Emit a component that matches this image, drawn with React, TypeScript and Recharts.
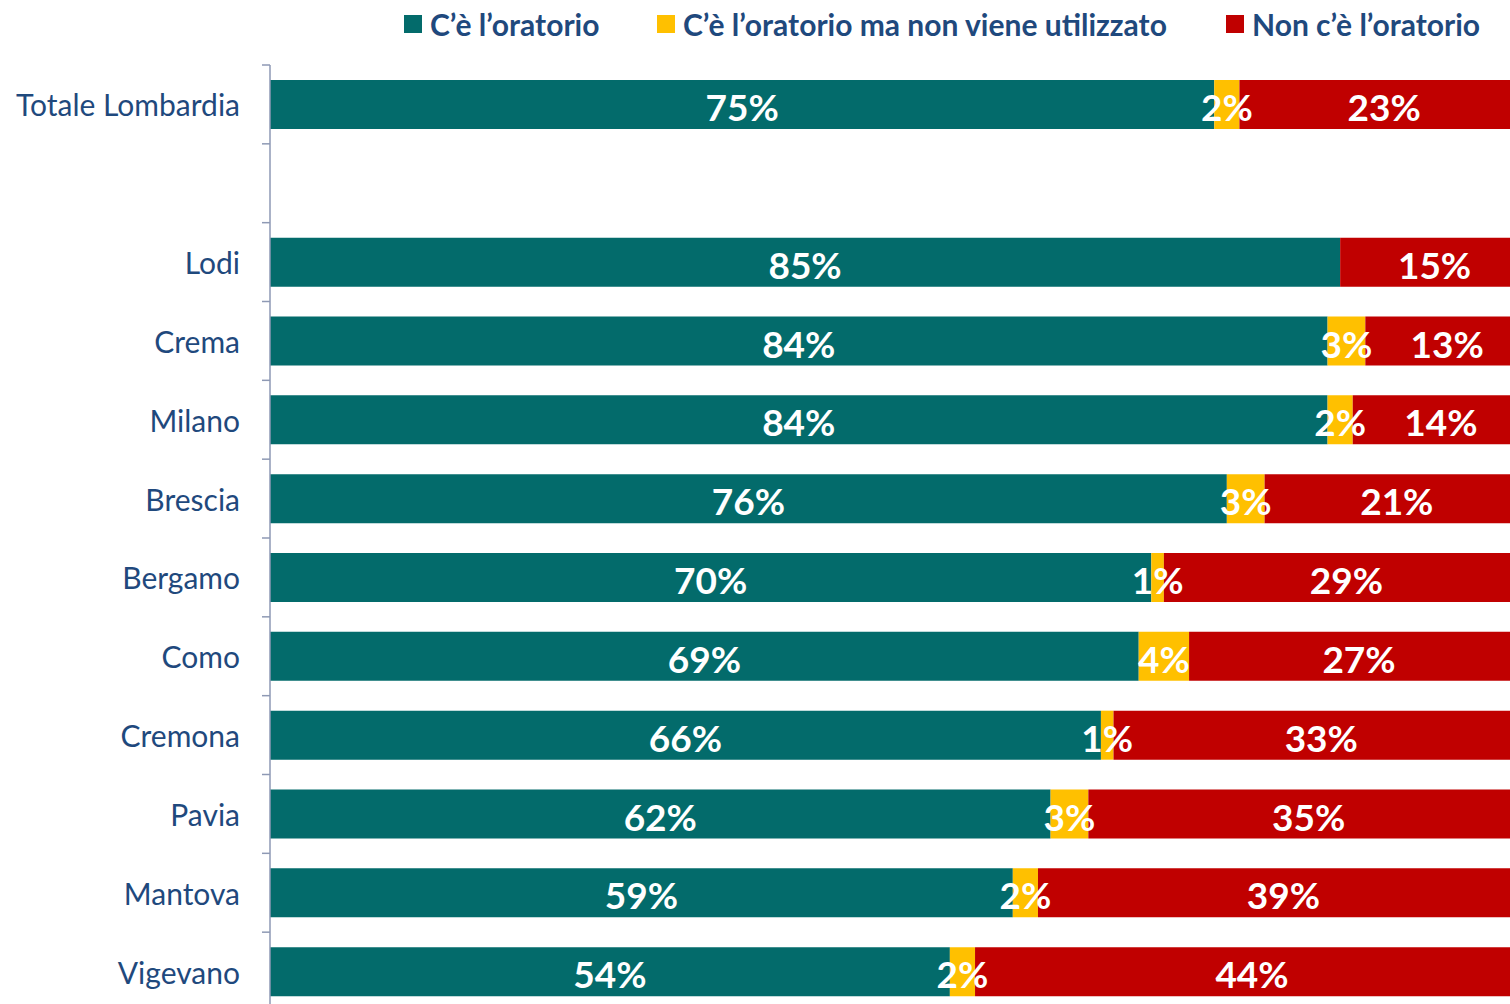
import React from 'react';
import { BarChart, Bar, XAxis, YAxis, LabelList } from 'recharts';

const categories = ['Totale Lombardia', '', 'Lodi', 'Crema', 'Milano', 'Brescia', 'Bergamo', 'Como', 'Cremona', 'Pavia', 'Mantova', 'Vigevano'];
const conOratorio = [75, null, 85, 84, 84, 76, 70, 69, 66, 62, 59, 54];
const nonUtilizzato = [2, null, 0, 3, 2, 3, 1, 4, 1, 3, 2, 2];
const senzaOratorio = [23, null, 15, 13, 14, 21, 29, 27, 33, 35, 39, 44];

const seriesNames = ['C’è l’oratorio', 'C’è l’oratorio ma non viene utilizzato', 'Non c’è l’oratorio'];
const colors = ['#036B6B', '#FFC000', '#C00000'];

const data = categories.map((name, i) => ({
  name,
  con: conOratorio[i],
  nonUsato: nonUtilizzato[i],
  senza: senzaOratorio[i],
}));

const TEXT = '#1F497D';
const AXIS = '#8E99B4';
const FONT = 'Lato, "Open Sans", sans-serif';

const CHART_H = 1020;
const MARGIN_TOP = 65;
const MARGIN_BOTTOM = 9;
const ROW = (CHART_H - MARGIN_TOP - MARGIN_BOTTOM) / categories.length;
const TICK_SIZE = 8;
const TICK_MARGIN = 22;

function CategoryTick(props: any) {
  const { x, y, payload } = props;
  const lx = x + TICK_MARGIN;
  const top = y - ROW / 2;
  return (
    <g>
      <line x1={lx} x2={lx + TICK_SIZE} y1={top} y2={top} stroke={AXIS} strokeWidth={1.5} />
      <text x={x} y={y} textAnchor="end" dominantBaseline="central" fill={TEXT} fontSize={30} fontFamily={FONT}>
        {payload.value}
      </text>
    </g>
  );
}

function ValueLabel(props: any) {
  const { x, y, width, height, value } = props;
  if (value == null || value === 0) return null;
  return (
    <text
      x={x + width / 2}
      y={y + height / 2 + 2}
      textAnchor="middle"
      dominantBaseline="central"
      fill="#fff"
      fontSize={37}
      fontWeight={700}
      fontFamily={FONT}
    >
      {value}%
    </text>
  );
}

const legendLeft = [404, 657, 1226];

export default function App() {
  return (
    <div style={{ position: 'fixed', left: 0, top: 0, width: 1510, height: 1004, overflow: 'hidden', background: '#fff' }}>
      {seriesNames.map((s, i) => (
        <div
          key={s}
          style={{
            position: 'absolute',
            left: legendLeft[i],
            top: 6,
            display: 'flex',
            alignItems: 'center',
            whiteSpace: 'nowrap',
            fontFamily: FONT,
            fontWeight: 700,
            fontSize: 30,
            color: TEXT,
          }}
        >
          <span style={{ display: 'inline-block', width: 18, height: 18, background: colors[i], marginRight: 8 }} />
          {s}
        </div>
      ))}
      <BarChart
        width={1539}
        height={CHART_H}
        data={data}
        layout="vertical"
        barSize={49}
        margin={{ top: MARGIN_TOP, right: 10, left: 0, bottom: MARGIN_BOTTOM }}
      >
        <XAxis type="number" domain={[0, 100]} hide />
        <YAxis
          type="category"
          dataKey="name"
          width={270}
          interval={0}
          tickSize={TICK_SIZE}
          tickMargin={TICK_MARGIN}
          tickLine={false}
          axisLine={{ stroke: AXIS, strokeWidth: 1.5 }}
          tick={<CategoryTick />}
        />
        <Bar dataKey="con" stackId="a" fill={colors[0]} isAnimationActive={false}>
          <LabelList dataKey="con" content={<ValueLabel />} />
        </Bar>
        <Bar dataKey="nonUsato" stackId="a" fill={colors[1]} isAnimationActive={false}>
          <LabelList dataKey="nonUsato" content={<ValueLabel />} />
        </Bar>
        <Bar dataKey="senza" stackId="a" fill={colors[2]} isAnimationActive={false}>
          <LabelList dataKey="senza" content={<ValueLabel />} />
        </Bar>
      </BarChart>
    </div>
  );
}
